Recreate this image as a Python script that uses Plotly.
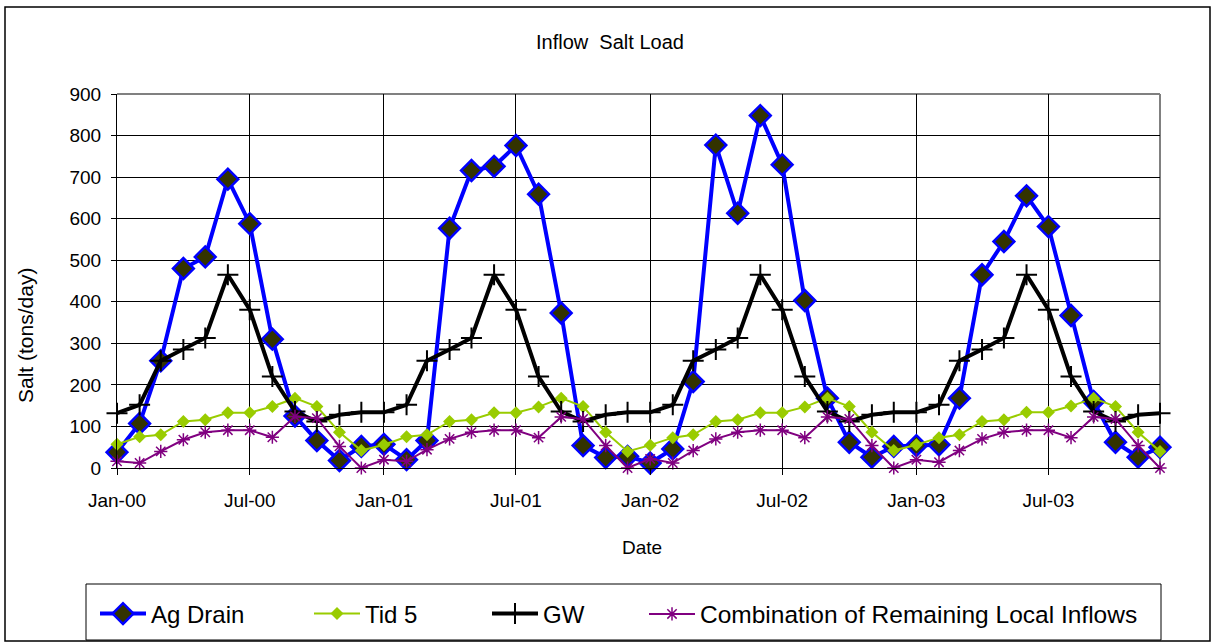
import plotly.graph_objects as go
import pandas as pd

# ---------------- data ----------------
months = pd.date_range("2000-01-01", periods=48, freq="MS")

ag_drain = [38, 107, 258, 480, 508, 695, 588, 310, 125, 66, 18, 52,
            57, 20, 66, 577, 716, 726, 776, 659, 373, 54, 25, 28,
            12, 46, 208, 777, 613, 848, 730, 403, 168, 62, 26, 52,
            54, 56, 168, 465, 545, 655, 581, 367, 160, 62, 26, 50]

tid5 = [57, 75, 80, 112, 116, 133, 133, 148, 168, 148, 86, 42,
        56, 75, 80, 112, 116, 133, 133, 147, 168, 148, 86, 40,
        55, 73, 80, 112, 116, 133, 133, 147, 168, 148, 86, 42,
        56, 73, 80, 112, 116, 134, 134, 149, 168, 148, 86, 40]

gw = [132, 152, 258, 285, 313, 465, 381, 220, 136, 112, 128, 134,
      134, 152, 258, 285, 313, 465, 381, 220, 136, 112, 128, 134,
      134, 152, 258, 285, 313, 465, 381, 220, 136, 112, 128, 134,
      134, 152, 258, 285, 313, 465, 381, 220, 136, 112, 128, 132]

combo = [16, 12, 40, 68, 86, 91, 91, 74, 124, 120, 52, 0,
         20, 16, 44, 70, 86, 91, 91, 73, 123, 118, 54, 0,
         22, 12, 42, 70, 86, 91, 91, 73, 123, 118, 54, 0,
         20, 14, 42, 70, 86, 91, 91, 73, 123, 118, 54, 0]

tick_dates = ["2000-01-01", "2000-07-01", "2001-01-01", "2001-07-01",
              "2002-01-01", "2002-07-01", "2003-01-01", "2003-07-01"]
tick_text = ["Jan-00", "Jul-00", "Jan-01", "Jul-01",
             "Jan-02", "Jul-02", "Jan-03", "Jul-03"]

# ---------------- layout geometry (pixels) ----------------
W, H = 1215, 643
PL, PR, PT, PB = 117, 1160, 94, 468  # plot area edges


def px_x(px):
    return (px - PL) / (PR - PL)


def px_y(py):
    return (PB - py) / (PB - PT)


FONT = "Liberation Sans, Arial, sans-serif"

fig = go.Figure()

fig.add_trace(go.Scatter(
    x=months, y=ag_drain, name="Ag Drain", mode="lines+markers",
    line=dict(color="#0000FF", width=4),
    marker=dict(symbol="diamond", size=16, color="#333300",
                line=dict(color="#0000FF", width=2.5)),
    cliponaxis=False, legend="legend"))

fig.add_trace(go.Scatter(
    x=months, y=tid5, name="Tid 5", mode="lines+markers",
    line=dict(color="#99CC00", width=2),
    marker=dict(symbol="diamond", size=10, color="#99CC00",
                line=dict(width=0)),
    cliponaxis=False, legend="legend2"))

fig.add_trace(go.Scatter(
    x=months, y=gw, name="GW", mode="lines+markers",
    line=dict(color="#000000", width=4),
    marker=dict(symbol="cross-thin", size=15, color="#000000",
                line=dict(color="#000000", width=2)),
    cliponaxis=False, legend="legend3"))

fig.add_trace(go.Scatter(
    x=months, y=combo, name="Combination of Remaining Local Inflows",
    mode="lines+markers",
    line=dict(color="#800080", width=2),
    marker=dict(symbol="asterisk-open", size=11, color="#800080",
                line=dict(color="#800080", width=1.5)),
    cliponaxis=False, legend="legend4"))

leg_common = dict(orientation="h", xanchor="left", yanchor="middle",
                  bgcolor="rgba(0,0,0,0)", borderwidth=0, itemwidth=46,
                  font=dict(family=FONT, size=24, color="#000000"))
leg_y = px_y(614)

fig.update_layout(
    width=W, height=H,
    margin=dict(l=PL, r=W - PR, t=PT, b=H - PB, pad=0, autoexpand=False),
    paper_bgcolor="white", plot_bgcolor="white",
    font=dict(family=FONT, size=19, color="#000000"),
    showlegend=True,
    legend=dict(x=px_x(95), y=leg_y, **leg_common),
    legend2=dict(x=px_x(309), y=leg_y, **leg_common),
    legend3=dict(x=px_x(487), y=leg_y, **leg_common),
    legend4=dict(x=px_x(644), y=leg_y,
                 **{**leg_common, "font": dict(family=FONT, size=24.5,
                                               color="#000000")}),
    xaxis=dict(
        type="date", range=["2000-01-01", "2003-12-01"],
        tickvals=tick_dates, ticktext=tick_text,
        showgrid=True, gridcolor="#000000", gridwidth=1,
        showline=True, linecolor="#000000", linewidth=1,
        ticks="outside", ticklen=6, tickcolor="#000000",
        ticklabelstandoff=9,
        tickfont=dict(family=FONT, size=19, color="#000000"),
        zeroline=False),
    yaxis=dict(
        range=[0, 900], dtick=100, tick0=0,
        showgrid=True, gridcolor="#000000", gridwidth=1,
        showline=True, linecolor="#000000", linewidth=1,
        ticks="outside", ticklen=5, tickcolor="#000000",
        ticklabelstandoff=6,
        tickfont=dict(family=FONT, size=19, color="#000000"),
        zeroline=False),
    annotations=[
        dict(text="Inflow  Salt Load", x=px_x(610), y=px_y(42),
             xref="paper", yref="paper", showarrow=False,
             xanchor="center", yanchor="middle",
             font=dict(family=FONT, size=20, color="#000000")),
        dict(text="Date", x=px_x(642), y=px_y(547),
             xref="paper", yref="paper", showarrow=False,
             xanchor="center", yanchor="middle",
             font=dict(family=FONT, size=19, color="#000000")),
        dict(text="Salt (tons/day)", x=px_x(25), y=px_y(336),
             xref="paper", yref="paper", showarrow=False, textangle=-90,
             xanchor="center", yanchor="middle",
             font=dict(family=FONT, size=21, color="#000000")),
    ],
    shapes=[
        # outer chart border
        dict(type="rect", xref="paper", yref="paper",
             x0=px_x(5), x1=px_x(1210), y0=px_y(641), y1=px_y(7),
             line=dict(color="#000000", width=1.5), layer="below"),
        # legend box
        dict(type="rect", xref="paper", yref="paper",
             x0=px_x(86), x1=px_x(1161), y0=px_y(640), y1=px_y(584),
             line=dict(color="#000000", width=1), layer="below"),
        # plot area border (gray top/right)
        dict(type="line", xref="paper", yref="paper",
             x0=0, x1=1, y0=1, y1=1,
             line=dict(color="#808080", width=2), layer="between"),
        dict(type="line", xref="paper", yref="paper",
             x0=1, x1=1, y0=0, y1=1,
             line=dict(color="#808080", width=2), layer="between"),
    ],
)

fig.write_html("out.html")
